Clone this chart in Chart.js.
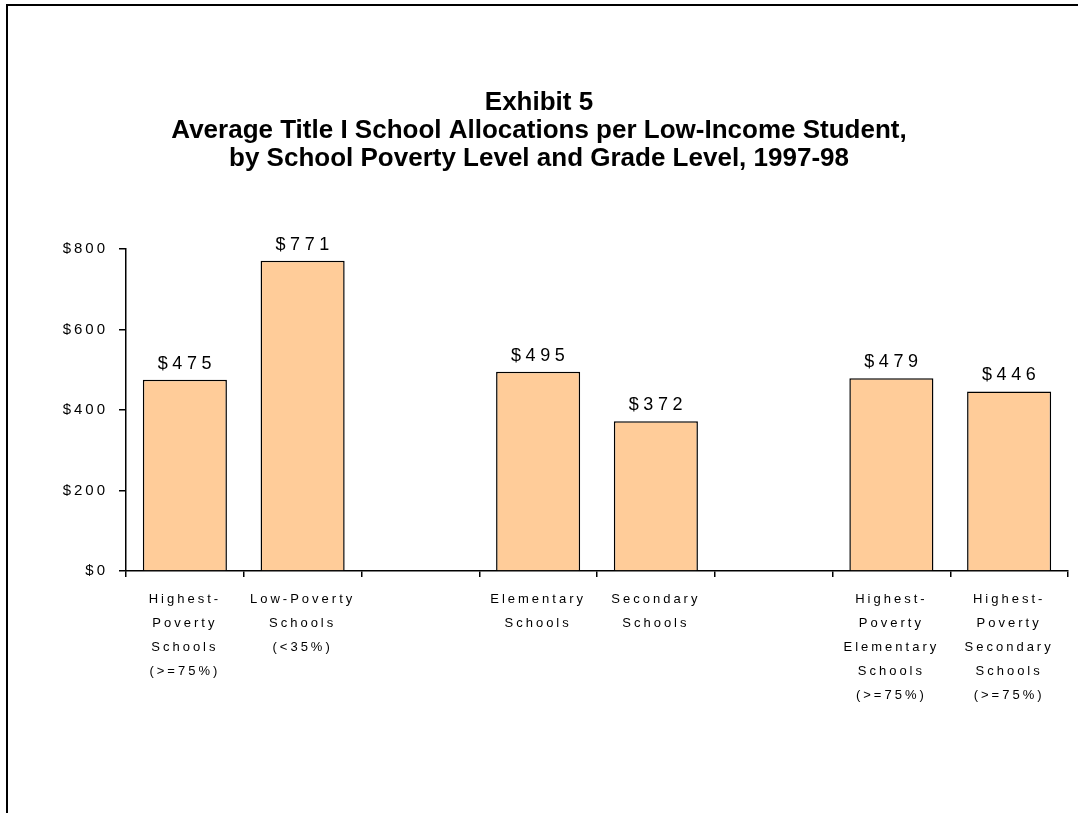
<!DOCTYPE html>
<html>
<head>
<meta charset="utf-8">
<script src="https://cdn.jsdelivr.net/npm/chart.js@4/dist/chart.umd.min.js"></script>
<style>
  html, body { margin: 0; padding: 0; background: #fff; overflow: hidden; }
  #wrap { position: relative; width: 1078px; height: 813px; }
  #frame {
    position: absolute; left: 6px; top: 4px; width: 2000px; height: 2000px;
    border-left: 2px solid #000; border-top: 2px solid #000;
  }
  #alloc-plot { position: absolute; left: 0; top: 0; }
</style>
</head>
<body>
<div id="wrap">
  <div id="frame"></div>
  <canvas id="alloc-plot" width="1078" height="813"></canvas>
</div>
<script>
// categories (empty ones are the gaps between groups)
let alloc_labels = [
    ['Highest-', 'Poverty', 'Schools', '(>=75%)'],
    ['Low-Poverty', 'Schools', '(<35%)'],
    '',
    ['Elementary', 'Schools'],
    ['Secondary', 'Schools'],
    '',
    ['Highest-', 'Poverty', 'Elementary', 'Schools', '(>=75%)'],
    ['Highest-', 'Poverty', 'Secondary', 'Schools', '(>=75%)']
]
let alloc_values = [475, 771, null, 495, 372, null, 479, 446]
let alloc_title = [
    'Exhibit 5',
    'Average Title I School Allocations per Low-Income Student,',
    'by School Poverty Level and Grade Level, 1997-98'
]
let alloc_y_ticks = [0, 200, 400, 600, 800]

const font_family = '"Liberation Sans", Arial, Helvetica, sans-serif'
const tick_spacing = '3px'

// axis text is spaced out, the title is not.
// ticks are drawn at z=1 (after the bars), so spacing is switched on in afterDatasetsDraw
let letter_spacing_plugin = {
    id: 'letterSpacing',
    beforeUpdate(chart) { chart.ctx.letterSpacing = tick_spacing },
    beforeDraw(chart) { chart.ctx.letterSpacing = '0px' },
    afterDraw(chart) { chart.ctx.letterSpacing = '0px' }
}

let value_label_plugin = {
    id: 'valueLabels',
    afterDatasetsDraw(chart) {
        let ctx = chart.ctx
        let meta = chart.getDatasetMeta(0)
        ctx.save()
        ctx.letterSpacing = '4.5px'
        ctx.font = '18px ' + font_family
        ctx.fillStyle = '#000'
        ctx.textAlign = 'center'
        ctx.textBaseline = 'alphabetic'
        meta.data.forEach((bar, i) => {
            let v = alloc_values[i]
            if (v === null) return
            ctx.fillText('$' + v, bar.x + 2, bar.y - 11)
        })
        ctx.restore()
        ctx.letterSpacing = tick_spacing
    }
}

document.addEventListener('DOMContentLoaded', () => {
    Chart.defaults.font.family = font_family
    Chart.defaults.color = '#000'
    Chart.defaults.plugins.legend.display = false
    Chart.defaults.plugins.tooltip.enabled = false

    let ctx = document.getElementById('alloc-plot')
    new Chart(ctx, {
        type: 'bar',
        data: {
            labels: alloc_labels,
            datasets: [{
                data: alloc_values,
                backgroundColor: '#FFCC99',
                borderColor: '#000',
                borderWidth: 1.5,
                categoryPercentage: 1,
                barPercentage: 0.714
            }]
        },
        options: {
            responsive: false,
            animation: false,
            layout: { padding: { left: 10, right: 10, top: 0, bottom: 0 } },
            plugins: {
                title: {
                    display: true,
                    text: alloc_title,
                    color: '#000',
                    font: { size: 26, weight: 'bold', lineHeight: 1.077 },
                    padding: { top: 89, bottom: 76 }
                }
            },
            scales: {
                x: {
                    grid: { offset: true, drawOnChartArea: false, tickLength: 6, color: '#000', lineWidth: 1.5 },
                    border: { color: '#000', width: 1.5 },
                    ticks: {
                        autoSkip: false, maxRotation: 0, minRotation: 0,
                        padding: 10,
                        z: 1,
                        font: { size: 13, lineHeight: 1.85 },
                        color: '#000'
                    },
                    afterFit(scale) { scale.height = 242 }
                },
                y: {
                    min: 0,
                    max: 800,
                    afterBuildTicks(scale) { scale.ticks = alloc_y_ticks.map(v => ({ value: v })) },
                    grid: { drawOnChartArea: false, tickLength: 7, color: '#000', lineWidth: 1.5 },
                    border: { color: '#000', width: 1.5 },
                    ticks: {
                        padding: 11,
                        z: 1,
                        font: { size: 15 },
                        color: '#000',
                        callback: (v) => '$' + v
                    },
                    afterFit(scale) { scale.width = 116 }
                }
            }
        },
        plugins: [letter_spacing_plugin, value_label_plugin]
    })
})
</script>
</body>
</html>
